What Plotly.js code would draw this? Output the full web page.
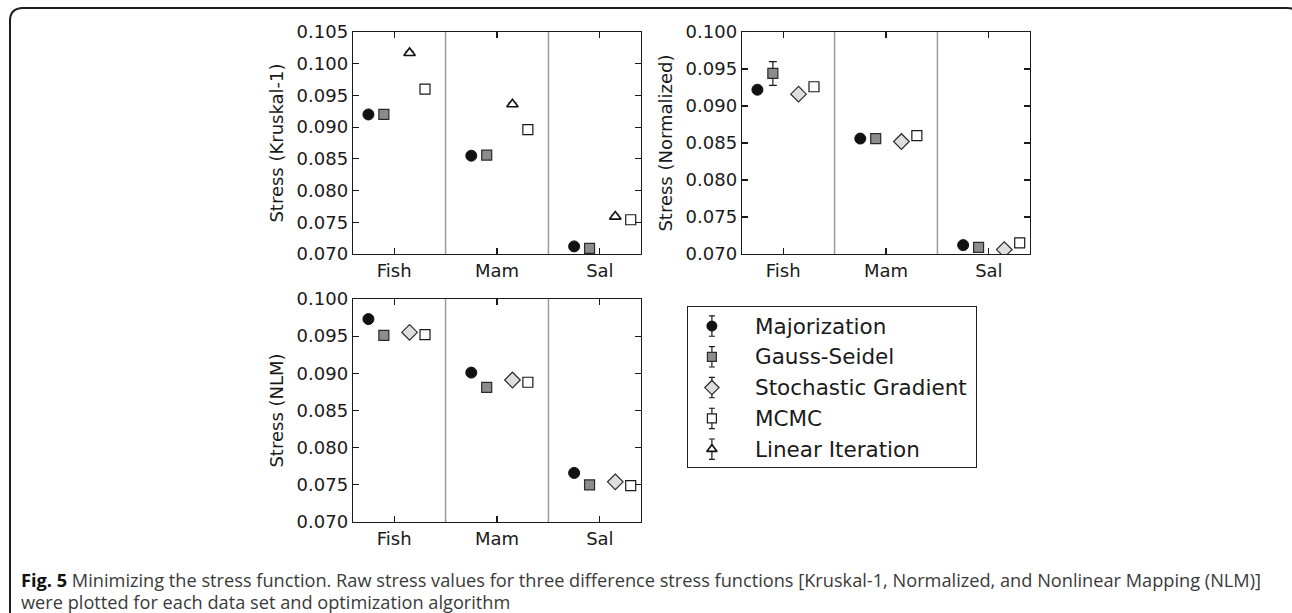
<!DOCTYPE html>
<html>
<head>
<meta charset="utf-8">
<script src="https://cdn.plot.ly/plotly-3.0.1.min.js"></script>
<style>
  html, body { margin: 0; padding: 0; background: #fff; }
  #fig { width: 1292px; height: 613px; }
</style>
</head>
<body>
<div id="fig"></div>
<script>
// Data sets on the x axis and the optimisation algorithms
const categories = ['Fish', 'Mam', 'Sal'];
const algorithms = ['Majorization', 'Gauss-Seidel', 'Stochastic Gradient', 'MCMC', 'Linear Iteration'];

// Kruskal-1 stress (Fish, Mam, Sal)
const kruskalMajorization = [0.0920, 0.0855, 0.0712];
const kruskalGaussSeidel  = [0.0920, 0.0856, 0.0709];
const kruskalStochastic   = [null, null, null];
const kruskalMCMC         = [0.0960, 0.0896, 0.0754];
const kruskalLinear       = [0.1017, 0.0936, 0.0759];
const kruskalLinearErr    = [0.00025, 0.00025, 0.00025];

// Normalized stress (Fish, Mam, Sal)
const normMajorization = [0.0922, 0.0856, 0.0712];
const normGaussSeidel  = [0.0944, 0.0856, 0.0709];
const normStochastic   = [0.0916, 0.0852, 0.0706];
const normMCMC         = [0.0926, 0.0860, 0.0715];
const normLinear       = [null, null, null];
const normGaussSeidelErr = [0.0016, 0, 0];

// Nonlinear mapping (NLM) stress (Fish, Mam, Sal)
const nlmMajorization = [0.0973, 0.0901, 0.0766];
const nlmGaussSeidel  = [0.0951, 0.0881, 0.0750];
const nlmStochastic   = [0.0955, 0.0891, 0.0754];
const nlmMCMC         = [0.0952, 0.0888, 0.0749];
const nlmLinear       = [null, null, null];
const nlmMajorizationErr = [0.0003, 0, 0];

// ---- styling ----
const W = 1292, H = 613;
const FONT = 'DejaVu Sans, Verdana, sans-serif';
const CAPTION_FONT = 'Open Sans, Noto Sans, Liberation Sans, sans-serif';
const INK = '#1a1a1a';

// horizontal offset of each algorithm inside a data-set group
const groupOffset = [-0.25, -0.10, 0.15, 0.30, 0.15];
const markerStyle = [
  {symbol: 'circle',      size: 11, color: '#111111', line: {color: '#111111', width: 1}},
  {symbol: 'square',      size: 10, color: '#8c8c8c', line: {color: '#2a2a2a', width: 1.2}},
  {symbol: 'diamond',     size: 12, color: '#dedede', line: {color: '#2a2a2a', width: 1.2}},
  {symbol: 'square',      size: 10, color: '#ffffff', line: {color: '#1a1a1a', width: 1.2}},
  {symbol: 'triangle-up', size: 10, color: '#ffffff', line: {color: '#111111', width: 1.6}}
];

const px = x => x / W;
const py = y => 1 - y / H;

function panelTraces(series, errors, xa, ya) {
  return series.map((vals, k) => {
    const err = errors[k];
    const t = {
      type: 'scatter', mode: 'markers', showlegend: false,
      xaxis: xa, yaxis: ya,
      x: categories.map((c, i) => i + 1 + groupOffset[k]),
      y: vals,
      marker: markerStyle[k],
      hoverinfo: 'skip'
    };
    if (err) {
      t.error_y = {type: 'data', array: err, visible: true, color: INK, thickness: 1.2, width: 4};
    }
    return t;
  });
}

const traces = [].concat(
  panelTraces(
    [kruskalMajorization, kruskalGaussSeidel, kruskalStochastic, kruskalMCMC, kruskalLinear],
    [null, null, null, null, kruskalLinearErr], 'x', 'y'),
  panelTraces(
    [normMajorization, normGaussSeidel, normStochastic, normMCMC, normLinear],
    [null, normGaussSeidelErr, null, null, null], 'x2', 'y2'),
  panelTraces(
    [nlmMajorization, nlmGaussSeidel, nlmStochastic, nlmMCMC, nlmLinear],
    [nlmMajorizationErr, null, null, null, null], 'x3', 'y3')
);

// legend glyphs: marker with error-bar whiskers, one row per algorithm
const legendMarkerX = 0.083;
algorithms.forEach((name, k) => {
  traces.push({
    type: 'scatter', mode: 'markers', showlegend: false,
    xaxis: 'x4', yaxis: 'y4',
    x: [legendMarkerX], y: [k],
    marker: Object.assign({}, markerStyle[k], {size: markerStyle[k].size - 1}),
    error_y: {type: 'constant', value: 0.33, visible: true, color: INK, thickness: 1.2, width: 3},
    hoverinfo: 'skip'
  });
});

function xAxis(domain) {
  return {
    domain: domain, range: [0.6, 3.4],
    tickvals: categories.map((c, i) => i + 1), ticktext: categories,
    ticks: 'inside', ticklen: 6, tickwidth: 1.2, tickcolor: INK,
    showline: true, mirror: 'allticks', linecolor: INK, linewidth: 1.3,
    showgrid: false, zeroline: false,
    tickfont: {family: FONT, size: 18, color: INK}
  };
}
function yAxis(domain, range, title) {
  return {
    domain: domain, range: range, dtick: 0.005, tick0: 0.07, tickformat: '.3f',
    ticks: 'inside', ticklen: 6, tickwidth: 1.2, tickcolor: INK,
    showline: true, mirror: 'allticks', linecolor: INK, linewidth: 1.3,
    showgrid: false, zeroline: false,
    tickfont: {family: FONT, size: 18, color: INK},
    title: {text: title, font: {family: FONT, size: 18, color: INK}, standoff: 8}
  };
}

const topRow = [py(254), py(32)];
const bottomRow = [py(522), py(299)];
const leftCol = [px(353), px(641)];
const rightCol = [px(742), px(1030)];

// gray separators between data-set groups
const shapes = [];
[['x', 'y'], ['x2', 'y2'], ['x3', 'y3']].forEach(([xa, ya]) => {
  [1.5, 2.5].forEach(v => shapes.push({
    type: 'line', xref: xa, yref: ya + ' domain', x0: v, x1: v, y0: 0, y1: 1,
    line: {color: '#9a9a9a', width: 1.5}, layer: 'below'
  }));
});

// rounded outer frame of the figure
const fl = 10, ft = 8, fr = 1300, fb = 621, rad = 13;
shapes.push({
  type: 'path', xref: 'paper', yref: 'paper',
  path: `M ${px(fl)},${py(fb)} L ${px(fl)},${py(ft + rad)} Q ${px(fl)},${py(ft)} ${px(fl + rad)},${py(ft)} ` +
        `L ${px(fr - rad)},${py(ft)} Q ${px(fr)},${py(ft)} ${px(fr)},${py(ft + rad)} L ${px(fr)},${py(fb)}`,
  line: {color: '#1e1e1e', width: 2}
});

const annotations = algorithms.map((name, k) => ({
  xref: 'x4', yref: 'y4', x: 0.226, y: k, xanchor: 'left', yanchor: 'middle',
  text: name, showarrow: false, font: {family: FONT, size: 21.5, color: INK}
}));

// figure caption, two lines
annotations.push({
  xref: 'paper', yref: 'paper', x: px(19), y: py(580), xanchor: 'left', yanchor: 'middle', align: 'left',
  showarrow: false,
  text: '<b>Fig. 5</b> <span style="color:#3a3a3a">Minimizing the stress function. Raw stress values for three difference stress functions [Kruskal-1, Normalized, and Nonlinear Mapping (NLM)]</span>',
  font: {family: CAPTION_FONT, size: 18.2, color: '#111'}
});
annotations.push({
  xref: 'paper', yref: 'paper', x: px(19), y: py(602), xanchor: 'left', yanchor: 'middle', align: 'left',
  showarrow: false,
  text: 'were plotted for each data set and optimization algorithm',
  font: {family: CAPTION_FONT, size: 18.2, color: '#3a3a3a'}
});

const layout = {
  width: W, height: H, autosize: false,
  margin: {l: 0, r: 0, t: 0, b: 0, pad: 0},
  paper_bgcolor: '#ffffff', plot_bgcolor: '#ffffff',
  showlegend: false,
  xaxis: Object.assign(xAxis(leftCol), {anchor: 'y'}),
  yaxis: Object.assign(yAxis(topRow, [0.070, 0.105], 'Stress (Kruskal-1)'), {anchor: 'x'}),
  xaxis2: Object.assign(xAxis(rightCol), {anchor: 'y2'}),
  yaxis2: Object.assign(yAxis(topRow, [0.070, 0.100], 'Stress (Normalized)'), {anchor: 'x2'}),
  xaxis3: Object.assign(xAxis(leftCol), {anchor: 'y3'}),
  yaxis3: Object.assign(yAxis(bottomRow, [0.070, 0.100], 'Stress (NLM)'), {anchor: 'x3'}),
  xaxis4: {
    domain: [px(688), px(976)], range: [0, 1], anchor: 'y4',
    showline: true, mirror: true, linecolor: '#222', linewidth: 1.2,
    showticklabels: false, ticks: '', showgrid: false, zeroline: false, fixedrange: true
  },
  yaxis4: {
    domain: [py(467), py(307)], range: [4.58, -0.62], anchor: 'x4',
    showline: true, mirror: true, linecolor: '#222', linewidth: 1.2,
    showticklabels: false, ticks: '', showgrid: false, zeroline: false, fixedrange: true
  },
  shapes: shapes,
  annotations: annotations
};

Plotly.newPlot('fig', traces, layout, {displayModeBar: false, staticPlot: true});
</script>
</body>
</html>
